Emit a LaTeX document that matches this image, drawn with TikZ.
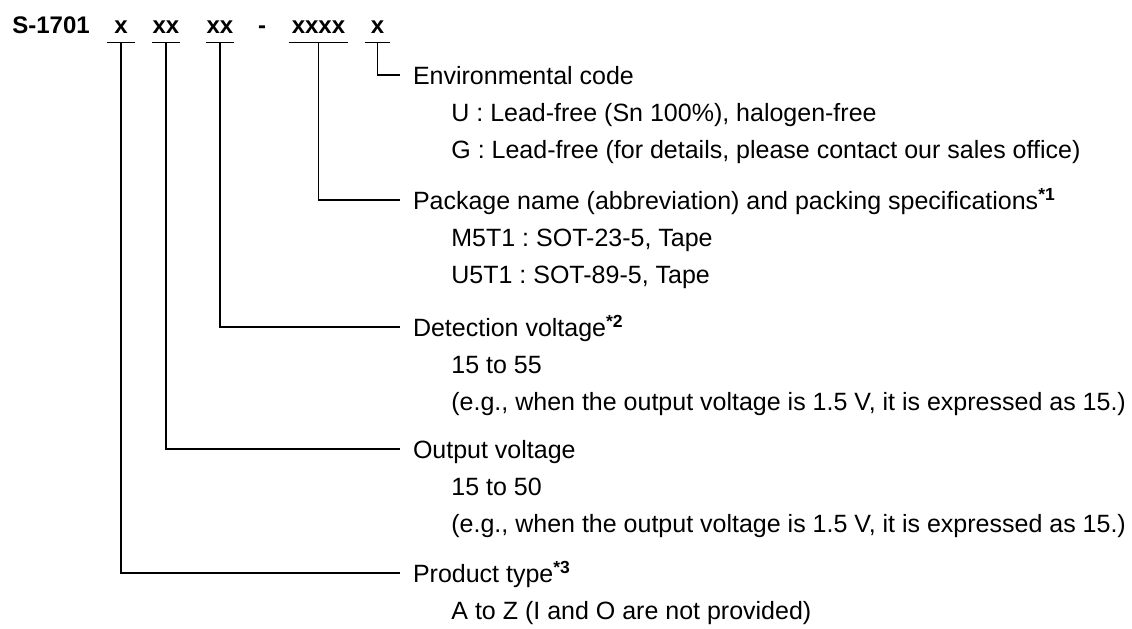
\documentclass[tikz,border=0pt]{standalone}
\usepackage{fontspec}
\setmainfont{Liberation Sans}
\frenchspacing
\usetikzlibrary{positioning}

\tikzset{
    base font/.style={font=\fontsize{12.5pt}{15pt}\selectfont},
    codepart/.style={font=\fontsize{12pt}{14pt}\selectfont\bfseries,
        anchor=base, inner xsep=0pt, inner ysep=4.5pt,
        text height=8.5pt, text depth=0pt},
    field/.style={base font, anchor=west, inner sep=0pt, outer xsep=6.5pt,
        text height=9pt, text depth=0pt},
    choice/.style={base font, anchor=west, inner sep=0pt,
        text height=9pt, text depth=0pt},
    tick/.style={line width=0.9pt},
}

\begin{document}
\begin{tikzpicture}[x=0.5pt, y=-0.5pt]
    \useasboundingbox (0,0) rectangle (1132,628);

    \node[codepart, anchor=base west] (model) at (12,33) {S-1701};
    \node[codepart, minimum width=14pt] (c1) at (121,33) {x};
    \node[codepart, minimum width=14pt] (c2) at (166,33) {xx};
    \node[codepart, minimum width=14pt] (c3) at (220,33) {xx};
    \node[codepart] (dash) at (262,33) {-};
    \node[codepart, minimum width=29.5pt] (c4) at (318.5,33) {xxxx};
    \node[codepart, minimum width=12.5pt] (c5) at (377.5,33) {x};

    \foreach \c in {c1,c2,c3,c4,c5}
        \draw[tick] (\c.south west) -- (\c.south east);

    \node[field] (env) at (400,75) {Environmental code};
    \node[choice] (envU) at (451,112) {U : Lead-free (Sn 100\%), halogen-free};
    \node[choice] (envG) at (451,149) {G : Lead-free (for details, please contact our sales office)};

    \node[field] (pkg) at (400,200) {Package name (abbreviation) and packing specifications\textsuperscript{\textbf{*1}}};
    \node[choice] (pkgM) at (451,237) {M5T1 : SOT-23-5, Tape};
    \node[choice] (pkgU) at (451,274) {U5T1 : SOT-89-5, Tape};

    \node[field] (det) at (400,327) {Detection voltage\textsuperscript{\textbf{*2}}};
    \node[choice] (detR) at (451,364) {15 to 55};
    \node[choice] (detE) at (451,401) {(e.g., when the output voltage is 1.5 V, it is expressed as 15.)};

    \node[field] (out) at (400,449) {Output voltage};
    \node[choice] (outR) at (451,486) {15 to 50};
    \node[choice] (outE) at (451,523) {(e.g., when the output voltage is 1.5 V, it is expressed as 15.)};

    \node[field] (prod) at (400,573) {Product type\textsuperscript{\textbf{*3}}};
    \node[choice] (prodR) at (451,610) {A to Z (I and O are not provided)};

    \draw[tick] (c5.south) |- (env.west);
    \draw[tick] (c4.south) |- (pkg.west);
    \draw[tick] (c3.south) |- (det.west);
    \draw[tick] (c2.south) |- (out.west);
    \draw[tick] (c1.south) |- (prod.west);
\end{tikzpicture}
\end{document}
